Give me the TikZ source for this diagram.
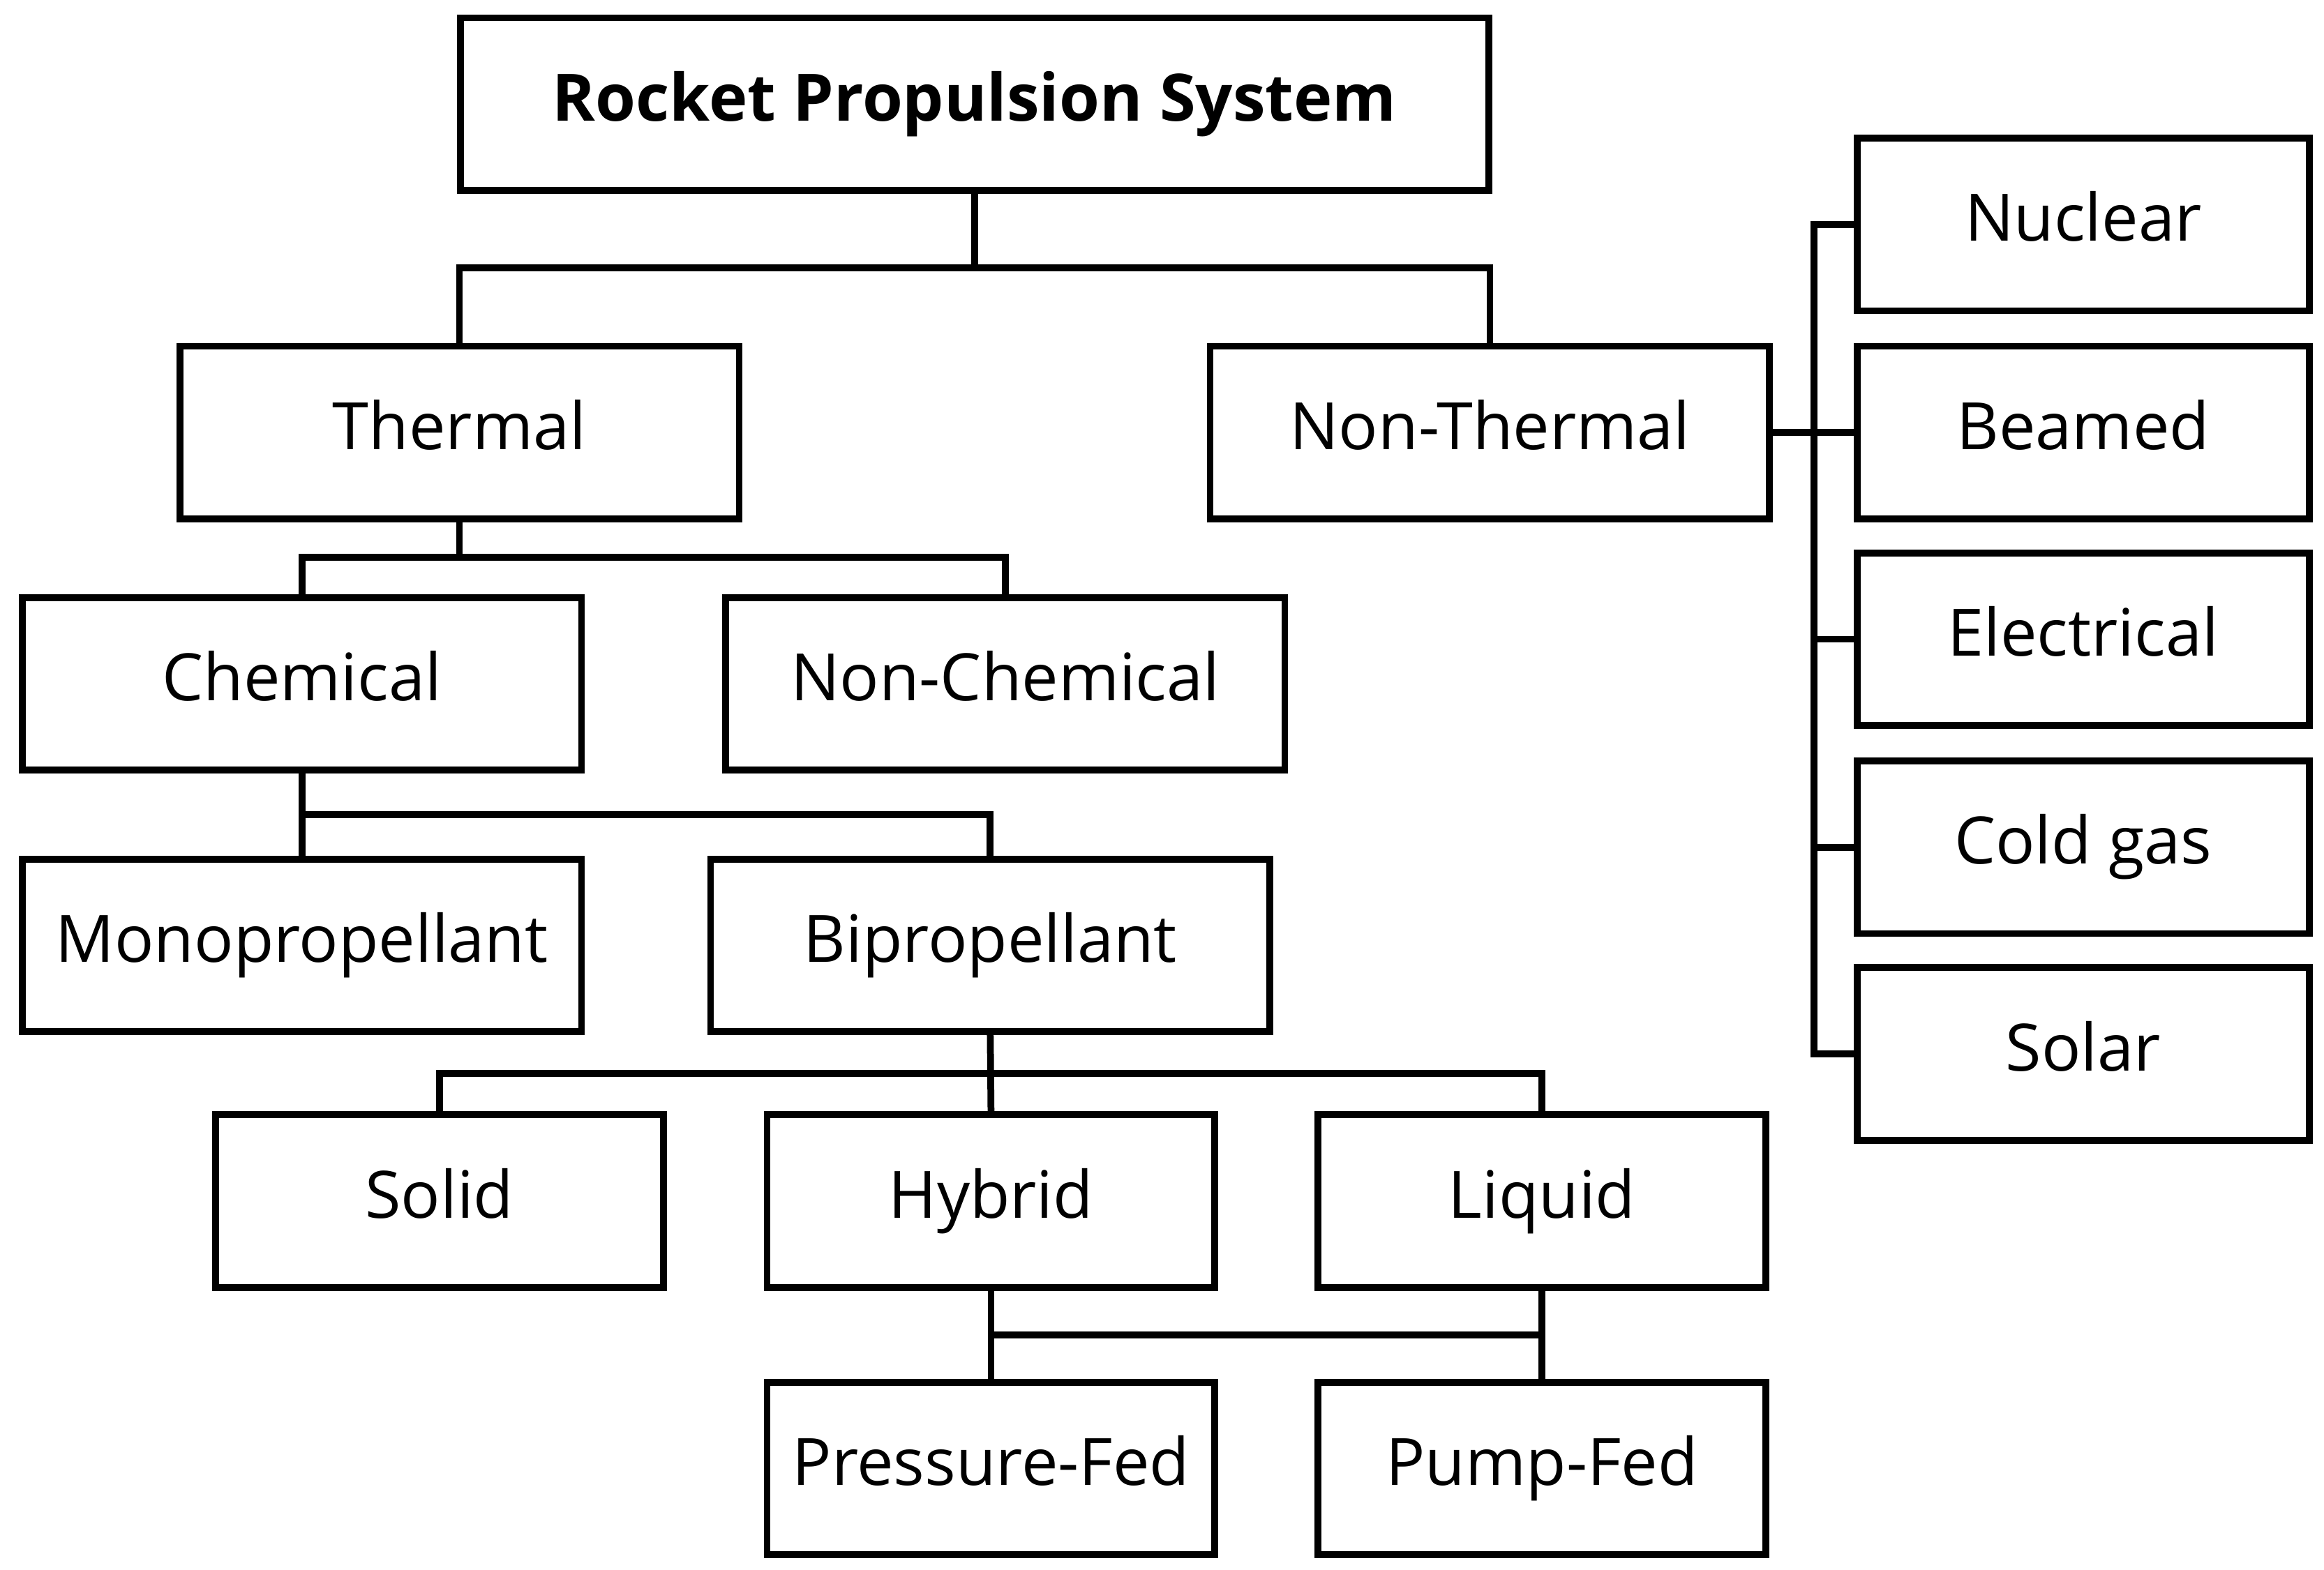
\documentclass[tikz,border=0pt]{standalone}
\usepackage{fontspec}
\setmainfont{Open Sans}
\begin{document}
\begin{tikzpicture}[x=0.01cm,y=-0.01cm,line width=1.3pt,
  box/.style={draw,rectangle,minimum height=1.16cm,inner sep=0pt,text height=1.6ex,text depth=0.4ex,font=\fontsize{12.5}{15}\selectfont},
  w376/.style={box,minimum width=3.76cm},
  w301/.style={box,minimum width=3.01cm},
  w304/.style={box,minimum width=3.04cm}]
\useasboundingbox (0,0) rectangle (1563,1056);
\node[box,minimum width=6.91cm,font=\fontsize{12.5}{15}\selectfont\bfseries] (root) at (655.5,70) {Rocket Propulsion System};
\node[w376] (th) at (309,291) {Thermal};
\node[w376] (nt) at (1002,291) {Non-Thermal};
\node[w376] (ch) at (203,460) {Chemical};
\node[w376] (nc) at (676,460) {Non-Chemical};
\node[w376] (mo) at (203,636) {Monopropellant};
\node[w376] (bi) at (666,636) {Bipropellant};
\node[w301] (so) at (295.5,808) {Solid};
\node[w301] (hy) at (666.5,808) {Hybrid};
\node[w301] (li) at (1037,808) {Liquid};
\node[w301] (pr) at (666.5,988) {Pressure-Fed};
\node[w301] (pu) at (1037,988) {Pump-Fed};
\node[w304] (nu) at (1401,151) {Nuclear};
\node[w304] (be) at (1401,291) {Beamed};
\node[w304] (el) at (1401,430) {Electrical};
\node[w304] (cg) at (1401,570) {Cold gas};
\node[w304] (sl) at (1401,709) {Solar};
% root
\coordinate (j1) at (655.5,180);
\draw (root.south) -- (j1);
\draw (th.north) |- (j1) -| (nt.north);
% thermal
\coordinate (j2) at (309,375);
\draw (th.south) -- (j2);
\draw (ch.north) |- (j2) -| (nc.north);
% chemical
\coordinate (j3) at (203,548);
\draw (ch.south) -- (j3);
\draw (mo.north) -- (j3) -| (bi.north);
% bipropellant
\coordinate (j4) at (666,722);
\draw (bi.south) -- (hy.north);
\draw (so.north) |- (j4) -| (li.north);
% hybrid/liquid
\coordinate (j5) at (666.5,898);
\draw (hy.south) -- (pr.north);
\draw (li.south) -- (pu.north);
\draw (j5) -- (j5 -| li.south);
% non-thermal
\coordinate (j6) at (1220,291);
\draw (nt.east) -- (j6);
\draw (nu.west) -| (1220,151) -- (1220,709) -- (sl.west);
\draw (j6) -- (be.west);
\draw (el.west) -- (el.west -| j6);
\draw (cg.west) -- (cg.west -| j6);
\end{tikzpicture}
\end{document}
